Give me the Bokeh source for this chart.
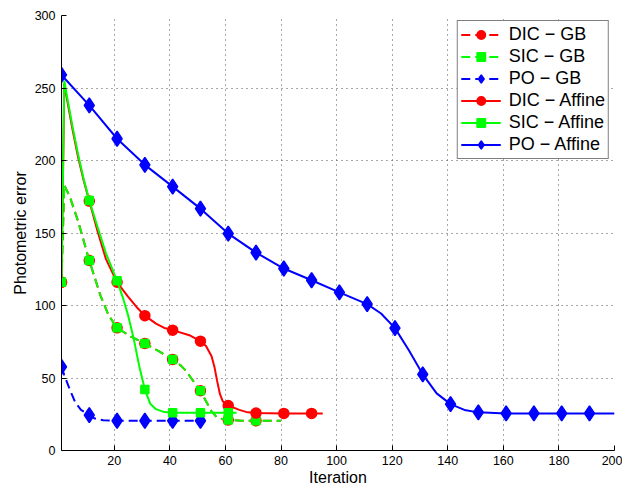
from bokeh.plotting import figure
from bokeh.models import Range1d, FixedTicker, Legend, LegendItem
from bokeh.embed import file_html
from bokeh.resources import INLINE

# ---- data ----
x_ticks = [20, 40, 60, 80, 100, 120, 140, 160, 180, 200]
y_ticks = [0, 50, 100, 150, 200, 250, 300]

dic_gb_x = [1, 2, 4, 7, 11, 15, 18, 21, 26, 31, 36, 41, 44, 46, 48, 51, 53, 55, 57, 61, 66, 71, 80]
dic_gb_y = [116, 183, 175, 158, 131, 107, 93, 84.6, 78.5, 73.8, 68.5, 62.8, 58.5, 54.5, 49, 41.2, 34, 27, 22.5, 21, 20.6, 20.5, 20.5]

sic_gb_x = [1, 2, 4, 7, 11, 15, 18, 21, 26, 31, 36, 41, 44, 46, 48, 51, 53, 55, 57, 61, 66, 71, 80]
sic_gb_y = [116, 183, 175, 158, 131, 107, 93, 84.6, 78.5, 73.8, 68.5, 62.8, 58.5, 54.5, 49, 41.2, 34, 27, 22.5, 21, 20.6, 20.5, 20.5]

po_gb_x = [1, 2, 4, 6, 8, 11, 13, 16, 21, 31, 41, 51, 52]
po_gb_y = [57.7, 52, 42, 33, 28, 24.4, 22, 20.8, 20.5, 20.5, 20.5, 20.5, 20.5]

dic_aff_x = [1, 2, 3, 5, 7, 9, 11, 14, 17, 21, 25, 28, 31, 35, 38, 41, 47, 51, 53, 55, 56, 57, 58, 59, 61, 65, 68, 71, 81, 91, 95]
dic_aff_y = [116, 253, 242, 221, 202, 186, 172, 151, 132, 116, 106, 99, 93, 87.5, 84.5, 83, 79.5, 75.4, 72, 65, 58, 48, 39, 34, 31, 28, 26.3, 25.8, 25.6, 25.6, 25.6]

sic_aff_x = [1, 2, 3, 5, 7, 9, 11, 14, 17, 21, 23, 25, 27, 29, 31, 33, 35, 38, 41, 51, 61, 64]
sic_aff_y = [116, 255, 244, 223, 204, 187, 172.5, 154, 136, 117, 106, 93, 77, 58, 42, 32, 28.5, 26.5, 26, 26, 26, 26]

po_aff_x = [1, 11, 21, 31, 41, 51, 61, 71, 81, 91, 101, 111, 116, 121, 126, 131, 136, 141, 146, 151, 161, 171, 181, 191, 200]
po_aff_y = [259, 238, 215, 197, 182, 166.8, 149.6, 136.5, 125.5, 117.4, 109, 100.9, 94.5, 84.4, 69.2, 52.5, 39.4, 32, 28, 26.3, 25.6, 25.6, 25.6, 25.6, 25.6]

labels = ["DIC \u2212 GB", "SIC \u2212 GB", "PO \u2212 GB",
          "DIC \u2212 Affine", "SIC \u2212 Affine", "PO \u2212 Affine"]

FONT = "Liberation Sans"

p = figure(frame_width=553, frame_height=435,
           x_range=Range1d(1, 200), y_range=Range1d(0, 300),
           output_backend="svg", toolbar_location=None,
           min_border_left=61, min_border_right=8,
           min_border_top=15, min_border_bottom=39)

p.outline_line_color = None
p.background_fill_color = "white"
p.border_fill_color = "white"

for ax in (p.xaxis[0], p.yaxis[0]):
    ax.major_tick_in = 5
    ax.major_tick_out = 0
    ax.minor_tick_in = 0
    ax.minor_tick_out = 0
    ax.axis_line_color = "black"
    ax.major_tick_line_color = "black"
    ax.major_label_text_font = FONT
    ax.major_label_text_font_size = "12.5px"
    ax.major_label_text_color = "black"
    ax.axis_label_text_font = FONT
    ax.axis_label_text_font_size = "16px"
    ax.axis_label_text_font_style = "normal"
    ax.axis_label_text_color = "black"

p.xaxis.ticker = FixedTicker(ticks=x_ticks)
p.yaxis.ticker = FixedTicker(ticks=y_ticks)
p.xaxis.axis_label = "Iteration"
p.yaxis.axis_label = "Photometric error"
p.xaxis.axis_label_standoff = 1
p.yaxis.axis_label_standoff = 3
p.xaxis.major_label_standoff = 5
p.yaxis.major_label_standoff = 6

for g in (p.xgrid[0], p.ygrid[0]):
    g.grid_line_color = "#505050"
    g.grid_line_dash = "1 4"
    g.grid_line_width = 1
p.xgrid.ticker = FixedTicker(ticks=x_ticks)
p.ygrid.ticker = FixedTicker(ticks=y_ticks)

series = [
    (dic_gb_x, dic_gb_y, "#ff0000", "circle", 10, "9 5"),
    (sic_gb_x, sic_gb_y, "#00ff00", "square", 8, "9 5"),
    (po_gb_x, po_gb_y, "#0000ff", "diamond", 15, "9 5"),
    (dic_aff_x, dic_aff_y, "#ff0000", "circle", 10, "solid"),
    (sic_aff_x, sic_aff_y, "#00ff00", "square", 8, "solid"),
    (po_aff_x, po_aff_y, "#0000ff", "diamond", 15, "solid"),
]

items = []
for (xs, ys, col, mk, sz, dash), lab in zip(series, labels):
    lr = p.line(xs, ys, line_color=col, line_width=2, line_dash=dash)
    mx = [x for x in xs if (x - 1) % 10 == 0]
    my = [y for x, y in zip(xs, ys) if (x - 1) % 10 == 0]
    sr = p.scatter(mx, my, marker=mk, size=sz, fill_color=col,
                   line_color=col, line_width=1.5)
    items.append(LegendItem(label=lab, renderers=[lr, sr]))

legend = Legend(items=items, location="top_right")
legend.margin = 5
legend.padding = 3
legend.spacing = 1
legend.glyph_width = 40
legend.glyph_height = 21
legend.label_height = 21
legend.label_standoff = 8
legend.label_text_font = FONT
legend.label_text_font_size = "18px"
legend.label_text_color = "black"
legend.border_line_color = "black"
legend.border_line_width = 1
legend.background_fill_color = "white"
legend.background_fill_alpha = 1
p.add_layout(legend, "center")

open("out.html", "w").write(file_html(p, INLINE))
